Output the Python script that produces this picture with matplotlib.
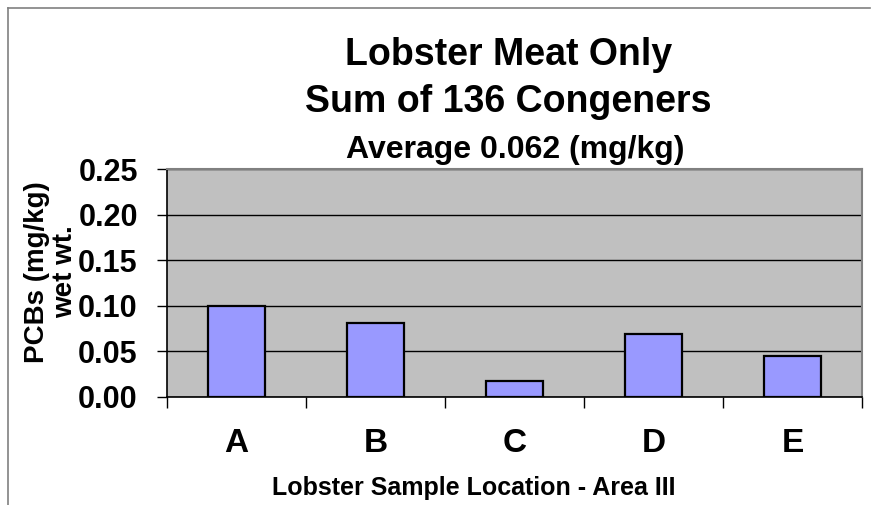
import matplotlib
matplotlib.use("Agg")
import matplotlib.pyplot as plt
from matplotlib.lines import Line2D

locations = ["A", "B", "C", "D", "E"]
pcb_values = [0.100, 0.081, 0.0175, 0.069, 0.045]
y_ticks = [0.00, 0.05, 0.10, 0.15, 0.20, 0.25]

plt.rcParams['font.family'] = ['Liberation Sans', 'DejaVu Sans']
plt.rcParams['font.weight'] = 'bold'

fig = plt.figure(figsize=(8.71, 5.05), dpi=100)
ax = fig.add_axes([167/871, 1 - 397/505, (862 - 167)/871, (397 - 169)/505])

ax.set_facecolor("#C0C0C0")
x = list(range(len(locations)))
ax.bar(x, pcb_values, width=0.41, color="#9999FF", edgecolor="black",
       linewidth=1.6, zorder=3)

ax.set_xlim(-0.5, len(locations) - 0.5)
ax.set_ylim(0, 0.25)
ax.set_yticks(y_ticks)
ax.set_yticklabels([f"{v:.2f}" for v in y_ticks], fontsize=22, fontweight="bold")
ax.yaxis.grid(True, color="black", linewidth=1, zorder=1)
ax.set_axisbelow(True)

ax.set_xticks(x)
ax.set_xticklabels(locations, fontsize=24, fontweight="bold")
ax.tick_params(axis="x", which="major", length=0, pad=22)
ax.set_xticks([i - 0.5 for i in range(len(locations) + 1)], minor=True)
ax.tick_params(axis="x", which="minor", length=8, width=1, direction="out")
ax.tick_params(axis="y", length=7, width=1, direction="out", pad=14)

for side in ["left", "bottom"]:
    ax.spines[side].set_color("black")
    ax.spines[side].set_linewidth(1.2)
for side in ["top", "right"]:
    ax.spines[side].set_color("#808080")
    ax.spines[side].set_linewidth(1.5)

# titles
fig.text(509/871, 1 - 65/505, "Lobster Meat Only", ha="center", va="baseline",
         fontsize=27, fontweight="bold")
fig.text(508/871, 1 - 112/505, "Sum of 136 Congeners", ha="center", va="baseline",
         fontsize=27, fontweight="bold")
fig.text(515/871, 1 - 158/505, "Average 0.062 (mg/kg)", ha="center", va="baseline",
         fontsize=23, fontweight="bold")

fig.text(474/871, 1 - 495/505, "Lobster Sample Location - Area III",
         ha="center", va="baseline", fontsize=18, fontweight="bold")
fig.text(51/871, 1 - 272/505, "PCBs (mg/kg)\nwet wt.", rotation=90,
         ha="center", va="center", multialignment="center",
         fontsize=20, fontweight="bold", linespacing=1.15)

# outer frame of the chart
fig.add_artist(Line2D([8/871, 8/871], [0, 1 - 8/505], color="#808080", lw=1.2))
fig.add_artist(Line2D([8/871, 870/871], [1 - 8/505, 1 - 8/505], color="#808080", lw=1.2))

fig.savefig("out.png", dpi=100)
